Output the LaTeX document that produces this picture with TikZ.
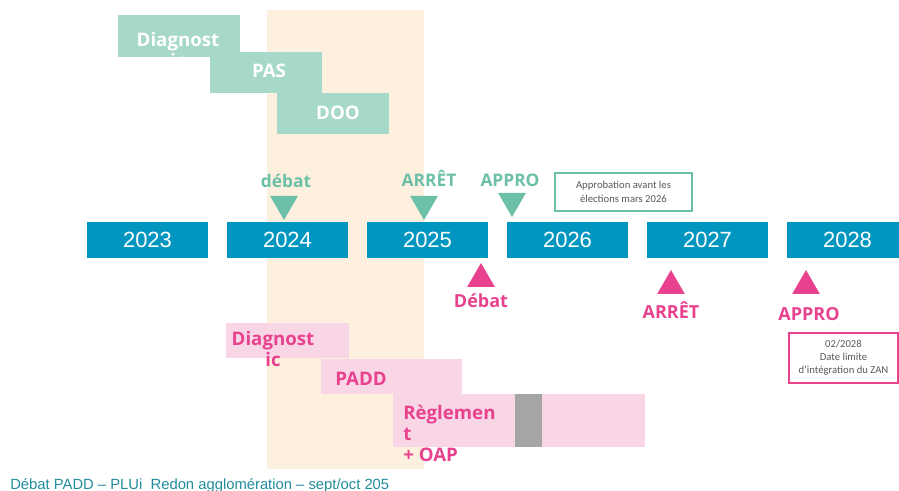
\documentclass[tikz,border=0pt]{standalone}
\usepackage{fontspec}
\setmainfont{Liberation Sans}
\newfontfamily\labelfont{Open Sans}
\newfontfamily\notefont{Carlito}
\usetikzlibrary{shapes.geometric}
\definecolor{yearblue}{RGB}{0,150,192}
\definecolor{tealbox}{RGB}{167,217,203}
\definecolor{tealmark}{RGB}{108,192,168}
\definecolor{pinkmark}{RGB}{232,66,143}
\definecolor{pinkbox}{RGB}{249,214,230}
\definecolor{beige}{RGB}{253,240,223}
\definecolor{footblue}{RGB}{33,140,156}
\definecolor{graybar}{RGB}{165,165,165}
\definecolor{notegray}{RGB}{90,90,90}
\tikzset{
  pxbox/.style 2 args={minimum width=#1*0.75pt, minimum height=#2*0.75pt, inner sep=0pt, outer sep=0pt},
  yearbar/.style={fill=yearblue, text=white, pxbox={121}{36}, font=\fontsize{16.5}{18}\selectfont},
  tealphase/.style={fill=tealbox},
  pinkphase/.style={fill=pinkbox},
  phasetext/.style={inner sep=0pt, font=\labelfont\bfseries\fontsize{14}{15.75}\selectfont},
  marktext/.style={inner sep=0pt, anchor=base, font=\labelfont\bfseries\fontsize{13}{15}\selectfont},
  downmark/.style={regular polygon, regular polygon sides=3, shape border rotate=180, fill=tealmark, minimum size=24pt, inner sep=0pt},
  upmark/.style={regular polygon, regular polygon sides=3, fill=pinkmark, minimum size=24pt, inner sep=0pt},
  notebox/.style={draw=#1, line width=1pt, fill=white, text=notegray, align=center, inner sep=0pt}
}
\begin{document}
\begin{tikzpicture}[x=0.75pt, y=-0.75pt]
  \useasboundingbox (0,0) rectangle (899,491);
  % current period
  \fill[beige] (267,10) rectangle (424,469);

  % upper phases
  \node[tealphase, pxbox={122}{42}] (tdiag) at (179,36) {};
  \node[phasetext, text=white, align=center] (tdiagtxt) at (178,50) {Diagnost\\ic};
  \node[tealphase, pxbox={112}{41}] (tpas) at (266,72.5) {};
  \node[phasetext, text=white, anchor=base] (tpastxt) at (269,78) {PAS};
  \node[tealphase, pxbox={112}{41}] (tdoo) at (333,113.5) {};
  \node[phasetext, text=white, anchor=base] (tdootxt) at (338,120) {DOO};

  % years
  \foreach \yr [count=\i from 0] in {2023,2024,2025,2026,2027,2028}
    \node[yearbar] (y\yr) at (147.5+140*\i,240) {\yr};

  % upper milestones
  \node[downmark] (mdebat) at (284,204) {};
  \node[marktext, text=tealmark] (tdebat) at (286,188) {débat};
  \node[downmark] (marret) at (424,204) {};
  \node[marktext, text=tealmark] (tarret) at (429,187) {ARRÊT};
  \node[downmark] (mappro) at (512,201) {};
  \node[marktext, text=tealmark] (tappro) at (510,187) {APPRO};
  \node[notebox=tealmark, pxbox={137}{38}, font=\notefont\fontsize{8}{10.5}\selectfont] (napp) at (623.5,192)
    {Approbation avant les\\élections mars 2026};

  % lower milestones
  \node[upmark] (pdebat) at (481,279) {};
  \node[marktext, text=pinkmark, font=\labelfont\bfseries\fontsize{13.5}{15}\selectfont] (ldebat) at (481,308) {Débat};
  \node[upmark] (parret) at (671,286) {};
  \node[marktext, text=pinkmark, font=\labelfont\bfseries\fontsize{13.5}{15}\selectfont] (larret) at (671,319) {ARRÊT};
  \node[upmark] (pappro) at (806,286) {};
  \node[marktext, text=pinkmark, font=\labelfont\bfseries\fontsize{13.5}{15}\selectfont] (lappro) at (809,321) {APPRO};
  \node[notebox=pinkmark, pxbox={109}{50}, font=\notefont\fontsize{8}{9.75}\selectfont] (nzan) at (843.5,358)
    {02/2028\\Date limite\\d’intégration du ZAN};

  % lower phases
  \node[pinkphase, pxbox={123}{35}] (pdiag) at (287.5,340.5) {};
  \node[phasetext, text=pinkmark, align=center] (pdiagtxt) at (273,349) {Diagnost\\ic};
  \node[pinkphase, pxbox={141}{35}] (ppadd) at (391.5,376.5) {};
  \node[phasetext, text=pinkmark, anchor=base] (ppaddtxt) at (361,385) {PADD};
  \node[pinkphase, pxbox={252}{53}] (pregl) at (519,420.5) {};
  \node[fill=graybar, pxbox={27}{53}] (pgap) at (528.5,420.5) {};
  \node[phasetext, text=pinkmark, align=left, anchor=west] (pregltxt) at (403,433) {Règlemen\\t\\+ OAP};

  % footer
  \node[anchor=base west, inner sep=0pt, text=footblue, font=\fontsize{11.1}{12}\selectfont] (foot) at (10,489)
    {Débat PADD – PLUi\ \ Redon agglomération – sept/oct 205};
\end{tikzpicture}
\end{document}
